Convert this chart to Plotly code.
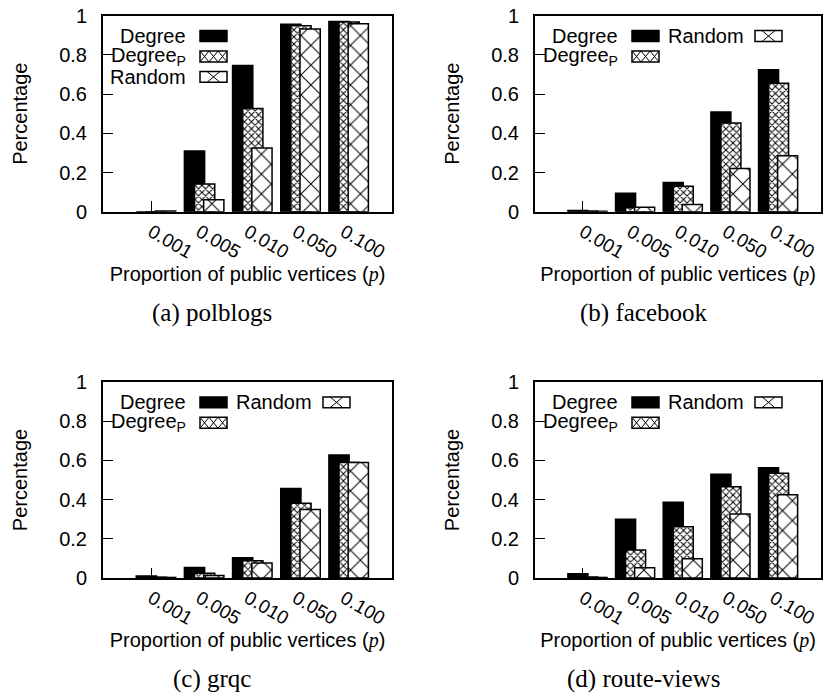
import plotly.graph_objects as go

W, H = 823, 697
# The page is photographed with a small vertical offset and squeeze; these two
# numbers map a position in the reference picture to the figure's own pixels.
VS, VOFF = 0.9733, 9.3
HF = 704  # figure height in its own pixels

categories = ["0.001", "0.005", "0.010", "0.050", "0.100"]
series_names = ["Degree", "Degree<sub>P</sub>", "Random"]

polblogs_degree = [0.0, 0.310, 0.746, 0.956, 0.970]
polblogs_degreep = [0.0, 0.142, 0.526, 0.949, 0.968]
polblogs_random = [0.004, 0.061, 0.325, 0.932, 0.959]

facebook_degree = [0.006, 0.095, 0.149, 0.509, 0.724]
facebook_degreep = [0.003, 0.021, 0.130, 0.453, 0.655]
facebook_random = [0.002, 0.023, 0.037, 0.220, 0.286]

grqc_degree = [0.010, 0.054, 0.104, 0.457, 0.628]
grqc_degreep = [0.004, 0.025, 0.088, 0.381, 0.589]
grqc_random = [0.003, 0.013, 0.077, 0.349, 0.589]

route_degree = [0.022, 0.300, 0.386, 0.529, 0.562]
route_degreep = [0.005, 0.143, 0.261, 0.466, 0.534]
route_random = [0.003, 0.052, 0.098, 0.327, 0.425]

y_tickvals = [0, 0.2, 0.4, 0.6, 0.8, 1]
y_ticktext = ["0", "0.2", "0.4", "0.6", "0.8", "1"]

captions = ["(a) polblogs", "(b) facebook", "(c) grqc", "(d) route-views"]
x_title = "Proportion of public vertices (<span style='font-family:Liberation Serif'><i>p</i></span>)"
y_title = "Percentage"

SANS = "Liberation Sans, Arial, sans-serif"
SERIF = "Liberation Serif, Times New Roman, serif"


def px(x):
    return x / W


def py(y):
    return 1 - ((y - VOFF) / VS) / HF


def dy(d):
    return d / VS


# panel boxes in reference pixels: left, right, top, bottom
panels = [
    dict(data=(polblogs_degree, polblogs_degreep, polblogs_random), box=(103, 392, 14, 211),
         cap=(212, 313), vertical_legend=True),
    dict(data=(facebook_degree, facebook_degreep, facebook_random), box=(535, 821, 14, 211),
         cap=(644, 313), vertical_legend=False),
    dict(data=(grqc_degree, grqc_degreep, grqc_random), box=(103, 392, 382, 579),
         cap=(212, 680), vertical_legend=False),
    dict(data=(route_degree, route_degreep, route_random), box=(535, 821, 382, 579),
         cap=(643, 680), vertical_legend=False),
]

bar_offsets = [-0.31, -0.10, 0.09]
bar_width = 0.42

styles = [
    dict(color="black"),
    dict(color="white", pattern=dict(shape="x", size=5, solidity=0.36,
                                     fgcolor="black", bgcolor="white", fillmode="replace")),
    dict(color="white", pattern=dict(shape="x", size=14, solidity=0.14,
                                     fgcolor="black", bgcolor="white", fillmode="replace")),
]

fig = go.Figure()
shapes = []
annotations = []

for i, p in enumerate(panels):
    k = "" if i == 0 else str(i + 1)
    L, R, T, B = p["box"]
    for s in range(3):
        fig.add_trace(go.Bar(
            x=categories, y=p["data"][s], name=series_names[s].replace("<sub>P</sub>", "P"),
            xaxis="x" + k, yaxis="y" + k,
            offset=bar_offsets[s], width=bar_width,
            marker=dict(line=dict(color="black", width=1.5), **styles[s]),
            showlegend=False, hoverinfo="x+y+name",
        ))
    fig.layout["xaxis" + k] = dict(
        domain=[px(L), px(R)], anchor="y" + k, type="category", range=[-1, 5],
        showline=True, linecolor="black", linewidth=2, mirror=True,
        ticks="inside", ticklen=dy(10), tickwidth=1, tickcolor="black",
        tickangle=30, tickfont=dict(family=SANS, size=19, color="black"),
        showgrid=False, zeroline=False, layer="below traces",
        title=dict(text=x_title, font=dict(family=SANS, size=20, color="black"), standoff=5),
    )
    fig.layout["yaxis" + k] = dict(
        domain=[py(B), py(T)], anchor="x" + k, range=[0, 1],
        tickvals=y_tickvals, ticktext=y_ticktext,
        showline=True, linecolor="black", linewidth=2, mirror=True,
        ticks="inside", ticklen=10, tickwidth=1, tickcolor="black",
        tickfont=dict(family=SANS, size=20, color="black"), ticklabelstandoff=10,
        showgrid=False, zeroline=False, layer="below traces",
        title=dict(text=y_title, font=dict(family=SANS, size=20, color="black"), standoff=26),
    )

    # caption
    cx, cy = p["cap"]
    annotations.append(dict(text=captions[i], x=px(cx), y=py(cy), xref="paper", yref="paper",
                            xanchor="center", yanchor="middle", showarrow=False,
                            font=dict(family=SERIF, size=25, color="black")))

    # legend (text on the left, key on the right)
    if p["vertical_legend"]:
        slots = [(0, 0), (0, 1), (0, 2)]
    else:
        slots = [(0, 0), (0, 1), (1, 0)]
    rows_c = [T + 20.5, T + 41.0, T + 61.5]
    for s in range(3):
        col, row = slots[s]
        yc = rows_c[row]
        if col == 0:
            annotations.append(dict(text=series_names[s], x=px(L + 85), y=py(yc), xref="paper", yref="paper",
                                    xanchor="right", yanchor="middle", showarrow=False,
                                    font=dict(family=SANS, size=20, color="black")))
            kx0, kx1 = L + 97, L + 124
        else:
            annotations.append(dict(text=series_names[s], x=px(L + 131), y=py(yc), xref="paper", yref="paper",
                                    xanchor="left", yanchor="middle", showarrow=False,
                                    font=dict(family=SANS, size=20, color="black")))
            kx0, kx1 = L + 220, L + 247
        ky0, ky1 = yc - 5.5, yc + 5.5
        if s == 0:
            shapes.append(dict(type="rect", xref="paper", yref="paper", x0=px(kx0), x1=px(kx1),
                               y0=py(ky1), y1=py(ky0), fillcolor="black", line=dict(color="black", width=1.5)))
        else:
            shapes.append(dict(type="rect", xref="paper", yref="paper", x0=px(kx0), x1=px(kx1),
                               y0=py(ky1), y1=py(ky0), fillcolor="white", line=dict(color="black", width=1.5)))
            path = ""
            if s == 1:
                cw = (kx1 - kx0) / 3.0
                for c in range(3):
                    a = kx0 + c * cw
                    b = a + cw
                    path += f"M{px(a)},{py(ky0)}L{px(b)},{py(ky1)}M{px(a)},{py(ky1)}L{px(b)},{py(ky0)}"
            else:
                mx = (kx0 + kx1) / 2.0
                hw = 6.5
                path += f"M{px(mx - hw)},{py(ky0)}L{px(mx + hw)},{py(ky1)}M{px(mx - hw)},{py(ky1)}L{px(mx + hw)},{py(ky0)}"
            shapes.append(dict(type="path", xref="paper", yref="paper", path=path,
                               line=dict(color="black", width=1)))

fig.update_layout(
    width=W, height=HF, margin=dict(l=0, r=0, t=0, b=0),
    paper_bgcolor="white", plot_bgcolor="white",
    barmode="overlay", showlegend=False,
    font=dict(family=SANS, color="black"),
    shapes=shapes, annotations=annotations,
)

fig.write_html("out.html")
